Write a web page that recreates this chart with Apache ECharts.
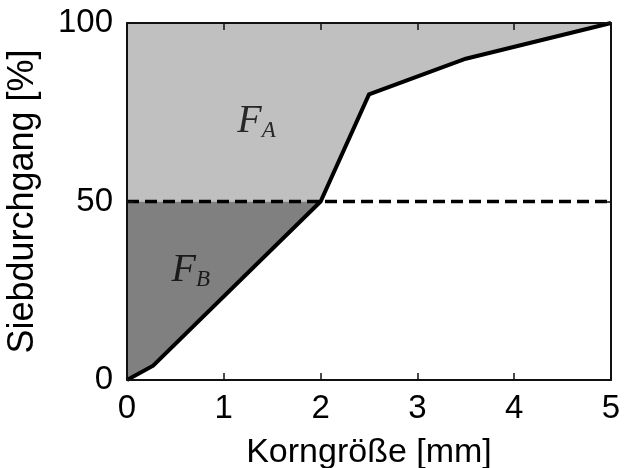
<!DOCTYPE html>
<html>
<head>
<meta charset="utf-8">
<script src="https://cdn.jsdelivr.net/npm/echarts@6/dist/echarts.min.js"></script>
<style>html,body{margin:0;padding:0;background:#fff}#c{width:626px;height:468px}</style>
</head>
<body>
<div id="c"></div>
<script>
// Data
var curveX = [0, 0.27, 2, 2.5, 3.5, 5];
var curveY = [0, 4, 50, 80, 90, 100];
var d50Level = 50;
var xTicks = [0, 1, 2, 3, 4, 5];
var yTicks = [0, 50, 100];
var xName = 'Korngröße [mm]';
var yName = 'Siebdurchgang [%]';
var labelA = {x: 1.14, y: 72.5, main: 'F', sub: 'A'};
var labelB = {x: 0.46, y: 30.8, main: 'F', sub: 'B'};

var curve = curveX.map(function (x, i) { return [x, curveY[i]]; });
var xMin = xTicks[0], xMax = xTicks[xTicks.length - 1];
var yMin = yTicks[0], yMax = yTicks[yTicks.length - 1];

var polyA = [[xMin, d50Level]].concat(curve.filter(function (p) { return p[1] >= d50Level; })).concat([[xMin, yMax]]);
var polyB = [[xMin, yMin]].concat(curve.filter(function (p) { return p[1] <= d50Level; })).concat([[xMin, d50Level]]);
var frameTop = [[xMin, yMax], [xMax, yMax]];
var frameRight = [[xMax, yMin], [xMax, yMax]];

function polySeries(poly, color) {
  return {
    type: 'custom', silent: true, z: 1,
    data: [[xMin, yMin]],
    renderItem: function (params, api) {
      return {
        type: 'polygon',
        shape: { points: poly.map(function (p) { return api.coord(p); }) },
        style: { fill: color }
      };
    }
  };
}
function edgeSeries(pts) {
  return {
    type: 'line', z: 8, data: pts, symbol: 'none', silent: true, clip: false,
    xAxisIndex: 1, yAxisIndex: 1,
    lineStyle: { color: '#111', width: 2 }
  };
}

var chart = echarts.init(document.getElementById('c'));
function axisBase() {
  return {
    type: 'value',
    z: 10,
    axisLine: { show: true, onZero: false, lineStyle: { color: '#111', width: 2 } },
    axisTick: { show: true, inside: true, length: 7, lineStyle: { color: '#111', width: 1.5 } },
    splitLine: { show: false }
  };
}
var labelRich = {
  f: { fontFamily: 'Liberation Serif', fontStyle: 'italic', fontSize: 40, color: '#000' },
  s: { fontFamily: 'Liberation Serif', fontStyle: 'italic', fontSize: 23, color: '#000', padding: [19, 0, 0, 0] }
};
chart.setOption({
  animation: false,
  backgroundColor: '#fff',
  grid: { left: 127, right: 15, top: 23, bottom: 88, containLabel: false, outerBoundsMode: 'none' },
  xAxis: [
    Object.assign(axisBase(), {
      position: 'bottom', min: xMin, max: xMax, interval: 1,
      name: xName, nameLocation: 'middle', nameGap: 56,
      nameTextStyle: { fontFamily: 'Liberation Sans', fontSize: 34, color: '#000' },
      axisLabel: { fontFamily: 'Liberation Sans', fontSize: 33, color: '#000', margin: 12 }
    }),
    Object.assign(axisBase(), {
      position: 'top', min: xMin, max: xMax, interval: 1,
      axisLabel: { show: false }
    })
  ],
  yAxis: [
    Object.assign(axisBase(), {
      position: 'left', min: yMin, max: yMax, interval: 50,
      name: yName, nameLocation: 'middle', nameGap: 86, nameRotate: 90,
      nameTextStyle: { fontFamily: 'Liberation Sans', fontSize: 36, color: '#000' },
      axisLabel: { fontFamily: 'Liberation Sans', fontSize: 33, color: '#000', margin: 14 }
    }),
    Object.assign(axisBase(), {
      position: 'right', min: yMin, max: yMax, interval: 50,
      axisLabel: { show: false }
    })
  ],
  series: [
    polySeries(polyA, '#c0c0c0'),
    polySeries(polyB, '#808080'),
    {
      type: 'line', z: 3, data: [[xMin, d50Level], [xMax, d50Level]],
      symbol: 'none', silent: true,
      lineStyle: { color: '#000', width: 3.5, type: [12, 6] }
    },
    {
      type: 'line', z: 4, data: curve, symbol: 'none', silent: true,
      lineStyle: { color: '#000', width: 4, join: 'miter' }
    },
    edgeSeries(frameTop),
    edgeSeries(frameRight),
    {
      type: 'scatter', z: 7, symbolSize: 0, silent: true,
      data: [[labelA.x, labelA.y, labelA.main, labelA.sub], [labelB.x, labelB.y, labelB.main, labelB.sub]],
      label: {
        show: true, position: 'inside', align: 'left', verticalAlign: 'middle',
        formatter: function (p) { return '{f|' + p.data[2] + '}{s|' + p.data[3] + '}'; },
        rich: labelRich
      }
    }
  ]
});
</script>
</body>
</html>
